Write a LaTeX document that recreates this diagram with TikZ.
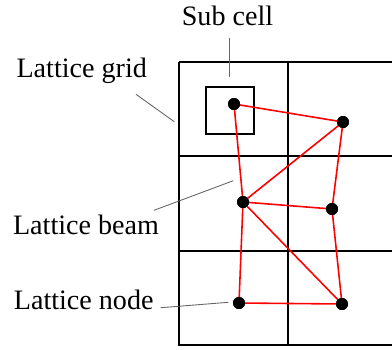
\documentclass[tikz,border=0pt]{standalone}
\usepackage{fontspec}
\setmainfont{Liberation Serif}
\usetikzlibrary{positioning}

\begin{document}
\begin{tikzpicture}[
    x=0.02cm, y=-0.02cm,
    gridline/.style={black, line width=1.2pt},
    beam/.style={red, line width=0.9pt},
    latnode/.style={circle, fill=black, inner sep=0pt, minimum size=0.24cm},
    subbox/.style={draw=black, line width=1pt, minimum width=0.96cm, minimum height=0.94cm, inner sep=0pt},
    lbl/.style={inner sep=0pt, font=\fontsize{16}{19}\selectfont},
    leader/.style={black!60, line width=0.5pt}
]
    \useasboundingbox (0,0) rectangle (392,349);

    % Lattice grid: two columns, three rows, open to the right.
    \draw[gridline] (179,62) -- (392,62);
    \draw[gridline] (179,156) -- (392,156);
    \draw[gridline] (179,251) -- (392,251);
    \draw[gridline] (179,345) -- (392,345);
    \draw[gridline] (179,62) -- (179,346);
    \draw[gridline] (288,62) -- (288,346);

    % Sub cell around the first lattice node.
    \node[subbox] (subcell) at (230,110.7) {};

    % Lattice nodes.
    \node[latnode] (n1) at (234,104) {};
    \node[latnode] (n2) at (343,122) {};
    \node[latnode] (n3) at (243,202) {};
    \node[latnode] (n4) at (332,209) {};
    \node[latnode] (n5) at (239,303) {};
    \node[latnode] (n6) at (342,304) {};

    % Lattice beams.
    \draw[beam] (n1.center) -- (n2.center);
    \draw[beam] (n1.center) -- (n3.center);
    \draw[beam] (n2.center) -- (n3.center);
    \draw[beam] (n2.center) -- (n4.center);
    \draw[beam] (n3.center) -- (n4.center);
    \draw[beam] (n3.center) -- (n5.center);
    \draw[beam] (n3.center) -- (n6.center);
    \draw[beam] (n4.center) -- (n6.center);
    \draw[beam] (n5.center) -- (n6.center);
    \foreach \n in {n1,n2,n3,n4,n5,n6}
        \fill (\n) circle (0.12cm);

    % Labels and their leader lines.
    \node[lbl] (sublbl) at (227.5,15.5) {Sub cell};
    \node[lbl] (gridlbl) at (81.7,70.7) {Lattice grid};
    \node[lbl] (beamlbl) at (86,225) {Lattice beam};
    \node[lbl] (nodelbl) at (83.7,300) {Lattice node};

    \coordinate (subfrom) at (229.3,38);
    \coordinate (subto) at (229.3,77);
    \coordinate (gridfrom) at (136,94.3);
    \coordinate (gridto) at (174.3,121.7);
    \coordinate (beamfrom) at (154,210.3);
    \coordinate (beamto) at (233.3,180.7);
    \coordinate (nodefrom) at (160.7,307.7);
    \coordinate (nodeto) at (228.3,302.3);

    \draw[leader] (subfrom) -- (subto);
    \draw[leader] (gridfrom) -- (gridto);
    \draw[leader] (beamfrom) -- (beamto);
    \draw[leader] (nodefrom) -- (nodeto);

\end{tikzpicture}
\end{document}
